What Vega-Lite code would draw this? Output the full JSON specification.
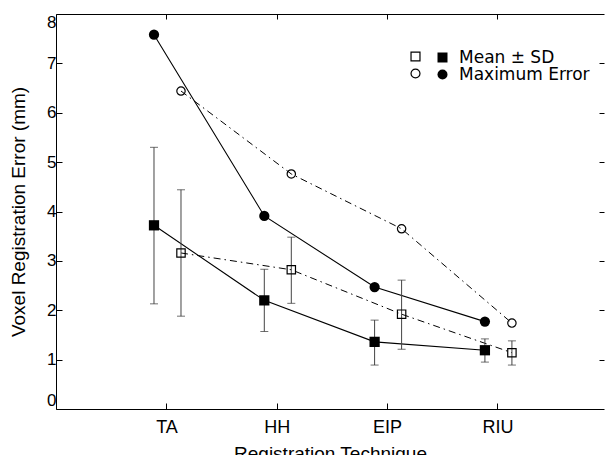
{
  "$schema": "https://vega.github.io/schema/vega-lite/v6.json",
  "width": 548,
  "height": 395,
  "autosize": "none",
  "padding": {"left": 56, "top": 14, "right": 1, "bottom": 46},
  "background": "white",
  "config": {
    "view": {"stroke": null},
    "font": "Liberation Sans",
    "axis": {
      "domainColor": "black",
      "tickColor": "black",
      "labelColor": "black",
      "titleColor": "black",
      "grid": false,
      "titleFontWeight": "normal",
      "labelFont": "Liberation Sans",
      "titleFont": "Liberation Sans"
    }
  },
  "datasets": {
    "pts": [
      {"technique": "TA", "set": "filled", "measure": "Mean ± SD", "value": 3.72, "lo": 2.13, "hi": 5.3},
      {"technique": "HH", "set": "filled", "measure": "Mean ± SD", "value": 2.2, "lo": 1.57, "hi": 2.83},
      {"technique": "EIP", "set": "filled", "measure": "Mean ± SD", "value": 1.36, "lo": 0.89, "hi": 1.8},
      {"technique": "RIU", "set": "filled", "measure": "Mean ± SD", "value": 1.19, "lo": 0.95, "hi": 1.42},
      {"technique": "TA", "set": "open", "measure": "Mean ± SD", "value": 3.16, "lo": 1.88, "hi": 4.44},
      {"technique": "HH", "set": "open", "measure": "Mean ± SD", "value": 2.82, "lo": 2.14, "hi": 3.48},
      {"technique": "EIP", "set": "open", "measure": "Mean ± SD", "value": 1.92, "lo": 1.21, "hi": 2.61},
      {"technique": "RIU", "set": "open", "measure": "Mean ± SD", "value": 1.14, "lo": 0.89, "hi": 1.38},
      {"technique": "TA", "set": "filled", "measure": "Maximum Error", "value": 7.58},
      {"technique": "HH", "set": "filled", "measure": "Maximum Error", "value": 3.91},
      {"technique": "EIP", "set": "filled", "measure": "Maximum Error", "value": 2.47},
      {"technique": "RIU", "set": "filled", "measure": "Maximum Error", "value": 1.77},
      {"technique": "TA", "set": "open", "measure": "Maximum Error", "value": 6.44},
      {"technique": "HH", "set": "open", "measure": "Maximum Error", "value": 4.76},
      {"technique": "EIP", "set": "open", "measure": "Maximum Error", "value": 3.65},
      {"technique": "RIU", "set": "open", "measure": "Maximum Error", "value": 1.74}
    ]
  },
  "data": {"name": "pts"},
  "encoding": {
    "x": {
      "field": "technique",
      "type": "nominal",
      "sort": ["TA", "HH", "EIP", "RIU"],
      "scale": {"type": "band", "domain": ["TA", "HH", "EIP", "RIU"], "paddingInner": 0, "paddingOuter": 0.484, "align": 0.523}
    }
  },
  "layer": [
    {
      "transform": [{"filter": "datum.set == 'filled'"}],
      "mark": {"type": "line", "color": "black", "strokeWidth": 1.1, "xOffset": -13},
      "encoding": {
        "x": {
          "field": "technique", "type": "nominal", "sort": ["TA", "HH", "EIP", "RIU"],
          "axis": {"orient": "bottom", "title": "Registration Technique", "titleFontSize": 19, "titleY": 35, "titleBaseline": "top", "labelAngle": 0, "labelFontSize": 18, "labelPadding": 15, "tickSize": -6}
        },
        "y": {
          "field": "value", "type": "quantitative",
          "scale": {"domain": [0, 8], "nice": false, "zero": true},
          "axis": {"orient": "left", "title": "Voxel Registration Error (mm)", "values": [0, 1, 2, 3, 4, 5, 6, 7, 8], "labelFontSize": 17, "labelPadding": 6, "labelFlush": true, "tickSize": -6, "titleFontSize": 19, "titleX": -38, "titleY": 197.5, "titleAngle": 270, "titleAlign": "center", "titleBaseline": "middle"}
        },
        "detail": {"field": "measure"}
      }
    },
    {
      "transform": [{"filter": "datum.set == 'open'"}],
      "mark": {"type": "line", "color": "black", "strokeWidth": 1, "strokeDash": [7, 4, 1.5, 4], "xOffset": 14},
      "encoding": {
        "x": {
          "field": "technique", "type": "nominal", "sort": ["TA", "HH", "EIP", "RIU"],
          "axis": {"orient": "top", "title": null, "labels": false, "tickSize": -5}
        },
        "y": {
          "field": "value", "type": "quantitative",
          "axis": {"orient": "right", "title": null, "labels": false, "domain": false, "values": [1, 2, 3, 4, 5, 6, 7], "tickSize": -5}
        },
        "detail": {"field": "measure"}
      }
    },
    {
      "transform": [{"filter": "datum.set == 'filled' && datum.measure == 'Mean ± SD'"}],
      "mark": {"type": "rule", "color": "#444", "strokeWidth": 1, "xOffset": -13},
      "encoding": {
        "x": {"field": "technique", "type": "nominal", "sort": ["TA", "HH", "EIP", "RIU"], "axis": null},
        "y": {"field": "lo", "type": "quantitative", "axis": null},
        "y2": {"field": "hi"}
      }
    },
    {
      "transform": [{"filter": "datum.set == 'open' && datum.measure == 'Mean ± SD'"}],
      "mark": {"type": "rule", "color": "#444", "strokeWidth": 1, "xOffset": 14},
      "encoding": {
        "x": {"field": "technique", "type": "nominal", "sort": ["TA", "HH", "EIP", "RIU"], "axis": null},
        "y": {"field": "lo", "type": "quantitative", "axis": null},
        "y2": {"field": "hi"}
      }
    },
    {
      "transform": [{"filter": "datum.set == 'filled' && datum.measure == 'Mean ± SD'"}, {"fold": ["lo", "hi"], "as": ["end", "endValue"]}],
      "mark": {"type": "tick", "orient": "horizontal", "color": "#333", "size": 8, "thickness": 1, "xOffset": -13},
      "encoding": {
        "x": {"field": "technique", "type": "nominal", "sort": ["TA", "HH", "EIP", "RIU"], "axis": null},
        "y": {"field": "endValue", "type": "quantitative", "axis": null}
      }
    },
    {
      "transform": [{"filter": "datum.set == 'open' && datum.measure == 'Mean ± SD'"}, {"fold": ["lo", "hi"], "as": ["end", "endValue"]}],
      "mark": {"type": "tick", "orient": "horizontal", "color": "#333", "size": 8, "thickness": 1, "xOffset": 14},
      "encoding": {
        "x": {"field": "technique", "type": "nominal", "sort": ["TA", "HH", "EIP", "RIU"], "axis": null},
        "y": {"field": "endValue", "type": "quantitative", "axis": null}
      }
    },
    {
      "transform": [{"filter": "datum.set == 'filled'"}],
      "mark": {"type": "point", "filled": true, "color": "black", "size": 105, "opacity": 1, "xOffset": -13},
      "encoding": {
        "x": {"field": "technique", "type": "nominal", "sort": ["TA", "HH", "EIP", "RIU"], "axis": null},
        "y": {"field": "value", "type": "quantitative", "axis": null},
        "shape": {
          "field": "measure", "type": "nominal",
          "scale": {"domain": ["Mean ± SD", "Maximum Error"], "range": ["square", "circle"]},
          "legend": {"title": null, "orient": "none", "legendX": 378, "legendY": 35, "padding": 0, "labelFont": "DejaVu Sans", "labelFontSize": 17, "labelColor": "black", "labelOffset": 8, "symbolSize": 100, "symbolFillColor": "black", "symbolStrokeColor": "black", "symbolOpacity": 1, "rowPadding": -1}
        }
      }
    },
    {
      "transform": [{"filter": "datum.set == 'open'"}],
      "mark": {"type": "point", "filled": false, "color": "black", "strokeWidth": 1.2, "size": 70, "opacity": 1, "xOffset": 14},
      "encoding": {
        "x": {"field": "technique", "type": "nominal", "sort": ["TA", "HH", "EIP", "RIU"], "axis": null},
        "y": {"field": "value", "type": "quantitative", "axis": null},
        "shape": {
          "field": "measure", "type": "nominal",
          "scale": {"domain": ["Mean ± SD", "Maximum Error"], "range": ["square", "circle"]},
          "legend": {"title": null, "orient": "none", "legendX": 354, "legendY": 37, "padding": 0, "labelExpr": "''", "labelFontSize": 1, "labelOffset": 0, "symbolSize": 80, "symbolFillColor": "white", "symbolStrokeColor": "black", "symbolStrokeWidth": 1.2, "symbolOpacity": 1, "rowPadding": 2}
        }
      }
    }
  ],
  "resolve": {
    "scale": {"shape": "independent"},
    "legend": {"shape": "independent"},
    "axis": {"x": "independent", "y": "independent"}
  }
}
